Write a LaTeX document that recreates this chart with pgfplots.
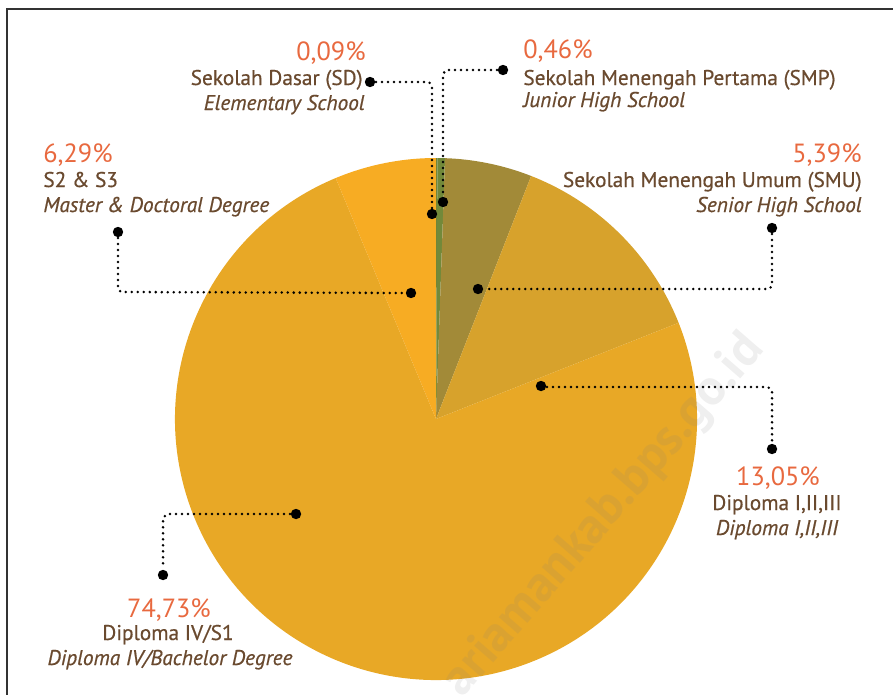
\documentclass[border=0pt]{standalone}
\usepackage{pgfplots}
\pgfplotsset{compat=1.18}
\usepackage{fontspec}
\setmainfont{PT Sans}
\newfontfamily\labfont{PT Sans}[FakeBold=0.6]
\definecolor{pctcol}{HTML}{E8693F}
\definecolor{labcol}{HTML}{6A4A2F}
\definecolor{sdcol}{HTML}{5E7F3A}
\definecolor{smpcol}{HTML}{72893A}
\definecolor{smucol}{HTML}{A28A38}
\definecolor{dipcol}{HTML}{D7A22C}
\definecolor{s1col}{HTML}{E8A826}
\definecolor{s2col}{HTML}{F7AC23}

\newcommand{\pct}{\fontsize{13.2}{15}\selectfont\color{pctcol}}
\newcommand{\lab}{\labfont\fontsize{10.7}{12}\selectfont\color{labcol}}
\newcommand{\labi}{\labfont\fontsize{10.7}{12}\selectfont\itshape\color{labcol}}

\begin{document}
\begin{tikzpicture}
\begin{axis}[name=ax, scale only axis, width=446.5bp, height=347.5bp,
  xmin=0, xmax=893, ymin=0, ymax=695, y dir=reverse, hide axis, clip=false]

% shares in percent, clockwise from the top
\pgfplotsextra{
  \gdef\cum{0}
  \foreach \v/\c in {0.09/sdcol, 0.46/smpcol, 5.39/smucol, 13.05/dipcol, 74.73/s1col, 6.29/s2col}{
    \pgfmathsetmacro\a{90-3.6*\cum}
    \pgfmathsetmacro\b{90-3.6*(\cum+\v)}
    \fill[\c] (axis cs:436,419) -- ++(\a:130.5bp) arc[start angle=\a, end angle=\b, radius=130.5bp] -- cycle;
    \pgfmathsetmacro\n{\cum+\v}
    \xdef\cum{\n}
  }
}

% watermark
\node[anchor=base east, rotate=49, font=\bfseries\fontsize{25.5}{25}\selectfont, text=gray, opacity=0.13]
  at (axis cs:770,345) {ariamankab.bps.go.id};

% frame
\draw[line width=1bp, black!80] (axis cs:7,695) -- (axis cs:7,9) -- (axis cs:893,9);

% leader lines
\tikzset{lead/.style={line width=1.4bp, line cap=round, dash pattern=on 0pt off 3bp}}
\draw[lead] (axis cs:376,82) -- (axis cs:429,82) -- (axis cs:432,86) -- (axis cs:432,209);
\fill (axis cs:370,82) circle[radius=2.6bp]; \fill (axis cs:432,214) circle[radius=2.6bp];
\draw[lead] (axis cs:497,70) -- (axis cs:446,70) -- (axis cs:443,74) -- (axis cs:443,197);
\fill (axis cs:503,70) circle[radius=2.6bp]; \fill (axis cs:443,202) circle[radius=2.6bp];
\draw[lead] (axis cs:772,234) -- (axis cs:772,286) -- (axis cs:769,289) -- (axis cs:484,289);
\fill (axis cs:772,228) circle[radius=2.6bp]; \fill (axis cs:478,289) circle[radius=2.6bp];
\draw[lead] (axis cs:547,387) -- (axis cs:768,387) -- (axis cs:772,391) -- (axis cs:772,443);
\fill (axis cs:541,386) circle[radius=2.6bp]; \fill (axis cs:772,449) circle[radius=2.6bp];
\draw[lead] (axis cs:290,514) -- (axis cs:167,514) -- (axis cs:163,518) -- (axis cs:163,569);
\fill (axis cs:296,514) circle[radius=2.6bp]; \fill (axis cs:163,575) circle[radius=2.6bp];
\draw[lead] (axis cs:118,238) -- (axis cs:118,289) -- (axis cs:121,292) -- (axis cs:405,293);
\fill (axis cs:118,232) circle[radius=2.6bp]; \fill (axis cs:411,293) circle[radius=2.6bp];

% labels
\node[anchor=base east, inner sep=0] at (axis cs:366,61) {\pct 0,09\%};
\node[anchor=base east, inner sep=0] at (axis cs:363,85) {\lab Sekolah Dasar (SD)};
\node[anchor=base east, inner sep=0] at (axis cs:365,110) {\labi Elementary School};

\node[anchor=base west, inner sep=0] at (axis cs:523,59) {\pct 0,46\%};
\node[anchor=base west, inner sep=0] at (axis cs:523,85) {\lab Sekolah Menengah Pertama (SMP)};
\node[anchor=base west, inner sep=0] at (axis cs:523,107) {\labi Junior High School};

\node[anchor=base west, inner sep=0] at (axis cs:43,162) {\pct 6,29\%};
\node[anchor=base west, inner sep=0] at (axis cs:43,187) {\lab S2 \& S3};
\node[anchor=base west, inner sep=0] at (axis cs:43,212) {\labi Master \& Doctoral Degree};

\node[anchor=base east, inner sep=0] at (axis cs:862,162) {\pct 5,39\%};
\node[anchor=base east, inner sep=0] at (axis cs:862,187) {\lab Sekolah Menengah Umum (SMU)};
\node[anchor=base east, inner sep=0] at (axis cs:862,212) {\labi Senior High School};

\node[anchor=base, inner sep=0] at (axis cs:778,485) {\pct 13,05\%};
\node[anchor=base, inner sep=0] at (axis cs:777,510) {\lab Diploma I,II,III};
\node[anchor=base, inner sep=0] at (axis cs:777,535) {\labi Diploma I,II,III};

\node[anchor=base, inner sep=0] at (axis cs:169,617) {\pct 74,73\%};
\node[anchor=base, inner sep=0] at (axis cs:168,640) {\lab Diploma IV/S1};
\node[anchor=base, inner sep=0] at (axis cs:170,665) {\labi Diploma IV/Bachelor Degree};
\end{axis}
\pgfresetboundingbox
\path (ax.south west) rectangle (ax.north east);
\end{tikzpicture}
\end{document}
